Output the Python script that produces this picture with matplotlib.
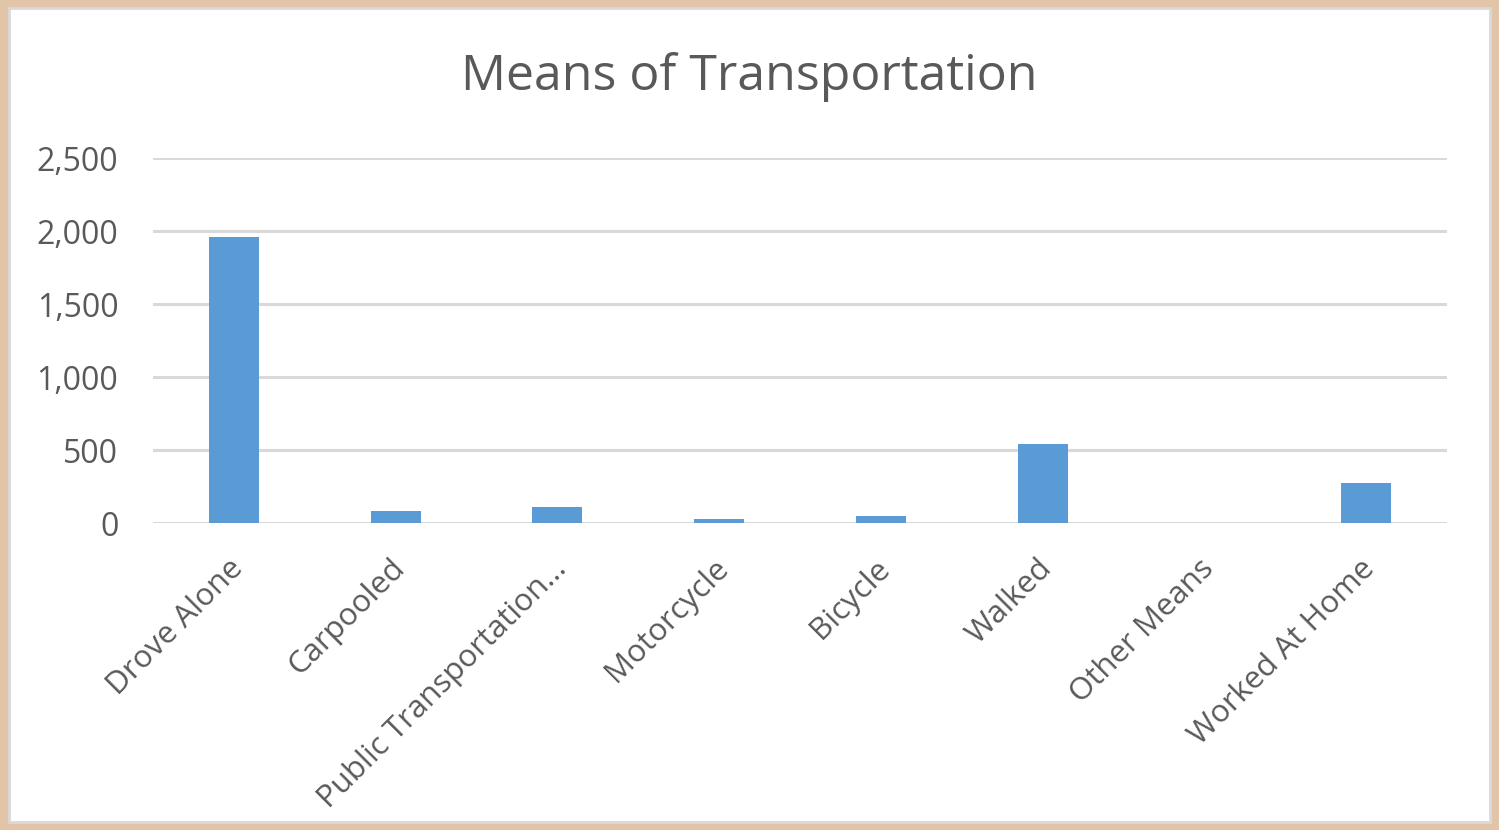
import matplotlib.pyplot as plt
from matplotlib.patches import Rectangle
from matplotlib.ticker import FuncFormatter
from matplotlib.transforms import ScaledTranslation

# data
categories = ['Drove Alone', 'Carpooled', 'Public Transportation...', 'Motorcycle',
              'Bicycle', 'Walked', 'Other Means', 'Worked At Home']
values = [1960, 80, 110, 25, 50, 540, 0, 275]
y_ticks = [0, 500, 1000, 1500, 2000, 2500]

plt.rcParams['font.family'] = ['Open Sans', 'DejaVu Sans']
text_color = '#595959'

fig = plt.figure(figsize=(14.99, 8.30), dpi=100)
fig.patch.set_facecolor('white')

# frame around the chart
fig.patches.append(Rectangle((0, 0), 1, 1, transform=fig.transFigure, fill=False,
                             edgecolor='#E2C4A8', linewidth=12, zorder=10))
fig.patches.append(Rectangle((0.006, 0.01), 0.988, 0.98, transform=fig.transFigure, fill=False,
                             edgecolor='#D9D9D9', linewidth=2, zorder=10))

ax = fig.add_axes([153 / 1499, 1 - 523 / 830, (1447 - 153) / 1499, (523 - 158) / 830])
ax.bar(range(len(categories)), values, width=0.31, color='#5B9BD5', zorder=3)

ax.set_xlim(-0.5, len(categories) - 0.5)
ax.set_ylim(0, 2500)
ax.set_yticks(y_ticks)
ax.yaxis.set_major_formatter(FuncFormatter(lambda v, p: f'{int(v):,}'))
ax.grid(axis='y', color='#D9D9D9', linewidth=2.2, zorder=0)
for s in ax.spines.values():
    s.set_visible(False)
ax.tick_params(axis='y', length=0, colors=text_color, labelsize=23, pad=25)
ax.tick_params(axis='x', length=0, colors=text_color, labelsize=22.5, pad=22)
ax.set_xticks(range(len(categories)))
ax.set_xticklabels(categories, rotation=45, ha='right', rotation_mode='anchor')
shift = ScaledTranslation(-6 / 100, 0, fig.dpi_scale_trans)
for lbl in ax.get_xticklabels():
    lbl.set_transform(lbl.get_transform() + shift)

fig.text(0.5, 1 - 77 / 830, 'Means of Transportation', ha='center', va='center',
         fontsize=36, color=text_color)

fig.savefig('out.png', dpi=100)
